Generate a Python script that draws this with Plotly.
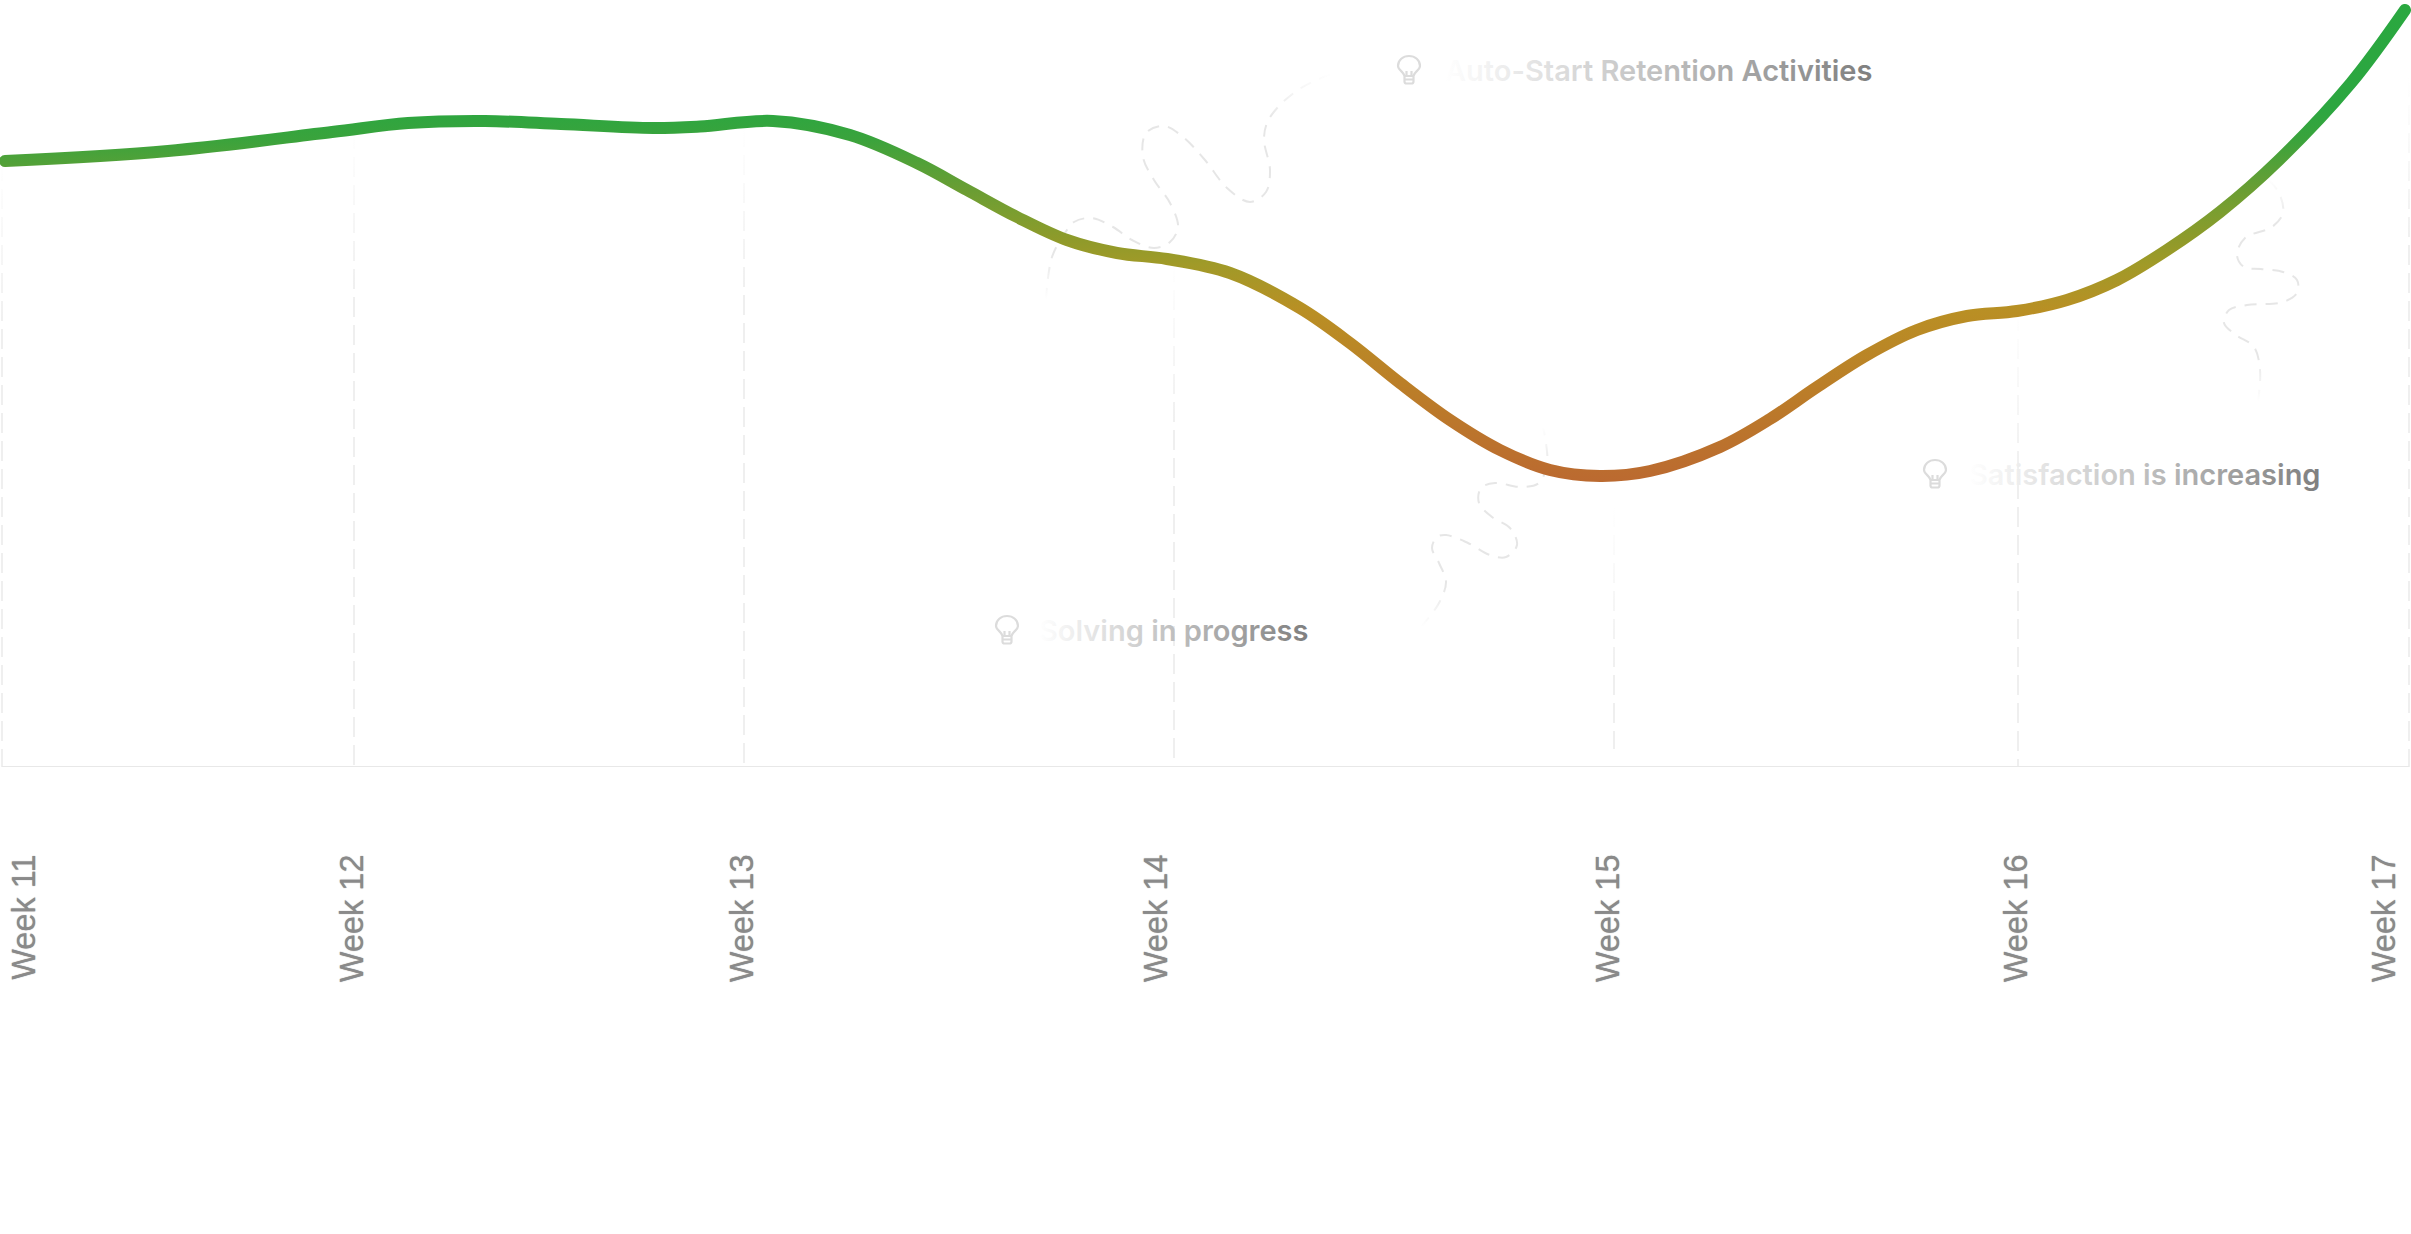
import json
import plotly.graph_objects as go

# x positions are page-like units along the time axis, y is height above the baseline
weeks = ["Week 11", "Week 12", "Week 13", "Week 14", "Week 15", "Week 16", "Week 17"]
week_x = [2, 354, 744, 1174, 1614, 2018, 2409]
label_x = [24, 352, 742, 1156, 1608, 2016, 2384]
grid_top = [606, 638, 640, 505, 260, 456, 690]
grid_bottom = [0, 0, 0, 0, 18, 0, 0]

curve_x = [5, 168, 332, 408, 485, 561, 653, 700, 773, 850, 917, 967, 1017, 1067,
           1117, 1167, 1230, 1300, 1350, 1400, 1450, 1500, 1550, 1600, 1650, 1720, 1770,
           1817, 1867, 1917, 1967, 2017, 2067, 2117, 2167, 2220, 2279, 2351, 2405]
curve_y = [606, 616, 635, 644, 646, 643, 639, 640.5, 646, 632, 604, 577, 550, 527,
           514, 508, 494, 459, 424, 384, 347, 317, 297, 291, 296, 320, 348,
           380, 412, 437, 451, 456, 467, 487, 517, 555, 607, 684, 757]

squiggle_auto_x = [1046, 1052, 1065, 1074, 1092, 1113, 1132, 1154, 1170, 1178, 1170, 1154, 1143,
                   1146, 1164, 1183, 1205, 1227, 1250, 1266, 1270, 1264, 1267, 1278, 1301, 1333]
squiggle_auto_y = [467, 510, 534, 545, 549, 540, 527, 519, 525, 540, 564, 587, 610,
                   634, 641, 630, 607, 579, 565, 575, 597, 627, 644, 660, 679, 694]
squiggle_solving_x = [1421, 1439, 1446, 1439, 1432, 1437, 1446, 1468, 1490, 1506, 1517, 1510, 1492,
                      1479, 1481, 1495, 1521, 1539, 1547, 1546, 1543]
squiggle_solving_y = [140, 164, 185, 204, 219, 230, 232, 224, 212, 210, 222, 239, 250,
                      264, 279, 284, 280, 284, 304, 324, 340]
squiggle_satisfaction_x = [2258, 2260, 2254, 2236, 2224, 2229, 2247, 2283, 2297, 2297, 2283, 2261,
                           2244, 2237, 2245, 2272, 2283, 2279, 2267]
squiggle_satisfaction_y = [365, 397, 420, 432, 444, 457, 462, 465, 474, 487, 495, 498,
                           500, 512, 529, 540, 554, 574, 589]

notes = ["Auto-Start Retention Activities", "Solving in progress", "Satisfaction is increasing"]
note_x = [1443, 1037, 1967]
note_y = [697, 137, 293]
bulb_x = [1409, 1007, 1935]
bulb_y = [697, 137, 293]

BASELINE_PX = 767
WIDTH, HEIGHT = 2411, 1234


def bulb_path(cx, cy):
    # offsets from the icon centre, y pointing up
    parts = [
        ("M", (-4.5, -6)), ("C", (-5, -2), (-11, 0), (-11, 4)), ("C", (-11, 10), (-6, 14), (0, 14)),
        ("C", (6, 14), (11, 10), (11, 4)), ("C", (11, 0), (5, -2), (4.5, -6)), ("Z",),
        ("M", (-4.5, -6)), ("L", (-4.5, -11.5)), ("Q", (-4.5, -13.5), (-2.5, -13.5)), ("L", (2.5, -13.5)),
        ("Q", (4.5, -13.5), (4.5, -11.5)), ("L", (4.5, -6)),
        ("M", (-4.5, -9.5)), ("L", (4.5, -9.5)),
        ("M", (-2.5, -6)), ("L", (-2.5, -1)),
        ("M", (2.5, -6)), ("L", (2.5, -1)),
    ]
    out = []
    for cmd, *pts in parts:
        out.append(cmd + " ".join(f"{cx + px},{cy + py}" for px, py in pts))
    return " ".join(out)


fig = go.Figure()

for x, y in [(squiggle_auto_x, squiggle_auto_y),
             (squiggle_solving_x, squiggle_solving_y),
             (squiggle_satisfaction_x, squiggle_satisfaction_y)]:
    fig.add_trace(go.Scatter(x=x, y=y, mode="lines", meta="squiggle", cliponaxis=False,
                             line=dict(shape="spline", smoothing=1.0, color="#e6e6e6", width=2, dash="12px,9px")))

for x, top, bottom in zip(week_x, grid_top, grid_bottom):
    fig.add_trace(go.Scatter(x=[x, x], y=[top, bottom], mode="lines", meta="grid", cliponaxis=False,
                             line=dict(color="#efefef", width=2, dash="20px,8px")))

fig.add_trace(go.Scatter(x=[week_x[0], week_x[-1]], y=[0, 0], mode="lines", meta="baseline", cliponaxis=False,
                         line=dict(color="#e8e8e8", width=2)))

fig.add_trace(go.Scatter(x=curve_x, y=curve_y, mode="lines", meta="curve", cliponaxis=False,
                         line=dict(shape="spline", smoothing=1.0, color="#2ca640", width=12)))

for text, x, y in zip(notes, note_x, note_y):
    fig.add_annotation(x=x, y=y, text=text, showarrow=False, xanchor="left", yanchor="middle",
                       font=dict(family="Inter", size=29, color="#8a8a8a", weight=600))

for x, y in zip(bulb_x, bulb_y):
    fig.add_shape(type="path", path=bulb_path(x, y), xref="x", yref="y",
                  line=dict(color="#dcdcdc", width=2.2))

fig.update_layout(
    width=WIDTH,
    height=HEIGHT,
    margin=dict(l=0, r=0, t=0, b=HEIGHT - BASELINE_PX),
    paper_bgcolor="white",
    plot_bgcolor="white",
    showlegend=False,
    hovermode=False,
    xaxis=dict(
        range=[0, WIDTH], showgrid=False, zeroline=False, showline=False,
        tickmode="array", tickvals=label_x, ticktext=weeks, tickangle=-90,
        ticks="", ticklabelposition="outside", ticklabelstandoff=80, automargin=False,
        tickfont=dict(family="Liberation Sans", size=32.5, color="#8a8a8a", shadow="0 0 1px #8a8a8a"),
    ),
    yaxis=dict(range=[0, BASELINE_PX], visible=False, automargin=False),
)

# plotly lines have no gradient stroke, so the fades are attached after the plot is drawn
post_script = """
document.body.style.margin = '0';
var gd = document.getElementById('{plot_id}');
var NS = 'http://www.w3.org/2000/svg';
var svg = gd.querySelector('.main-svg');
var defs = svg.querySelector('defs');
var BASE = __BASE__;
function addGrad(id, attrs, stops) {
  var g = document.createElementNS(NS, 'linearGradient');
  g.setAttribute('id', id);
  Object.keys(attrs).forEach(function (k) { g.setAttribute(k, attrs[k]); });
  stops.forEach(function (s) {
    var st = document.createElementNS(NS, 'stop');
    st.setAttribute('offset', s[0]);
    st.setAttribute('stop-color', s[1]);
    g.appendChild(st);
  });
  defs.appendChild(g);
  return 'url(#' + id + ')';
}
var rows = gd.querySelectorAll('.scatterlayer .trace');
gd.data.forEach(function (d, i) {
  var path = rows[i].querySelector('path.js-line');
  if (!path) return;
  var px = d.y.map(function (v) { return BASE - v; });
  var top = Math.min.apply(null, px), bot = Math.max.apply(null, px);
  if (d.meta === 'curve') {
    path.style.stroke = addGrad('curve-grad',
      {gradientUnits: 'userSpaceOnUse', x1: 0, x2: 0, y1: 0, y2: 480},
      [[0, '#2aa840'], [0.23, '#2ca640'], [0.29, '#3aa33c'], [0.34, '#52a138'], [0.396, '#6a9d33'],
       [0.44, '#7a9e30'], [0.5, '#8f9a2a'], [0.55, '#a09a28'], [0.648, '#b98f24'], [0.798, '#bb7f28'],
       [1, '#bb6a30']]);
    path.style.strokeLinecap = 'round';
  } else if (d.meta === 'grid') {
    path.style.stroke = addGrad('grid-grad-' + i,
      {gradientUnits: 'userSpaceOnUse', x1: 0, x2: 0, y1: top, y2: top + 170},
      [[0, '#ffffff'], [1, '#efefef']]);
  } else if (d.meta === 'squiggle') {
    path.style.stroke = addGrad('squiggle-grad-' + i,
      {gradientUnits: 'userSpaceOnUse', x1: 0, x2: 0, y1: top, y2: bot},
      [[0, '#ffffff'], [0.2, '#e6e6e6'], [0.8, '#e6e6e6'], [1, '#ffffff']]);
  }
});
var noteFill = addGrad('note-grad', {x1: 0, x2: 1, y1: 0, y2: 0},
  [[0, '#ffffff'], [1, '#7f7f7f']]);
gd.querySelectorAll('.annotation-text').forEach(function (t) { t.style.fill = noteFill; });
""".replace("__BASE__", json.dumps(BASELINE_PX))

fig.write_html("out.html", config={"displayModeBar": False}, post_script=post_script)
